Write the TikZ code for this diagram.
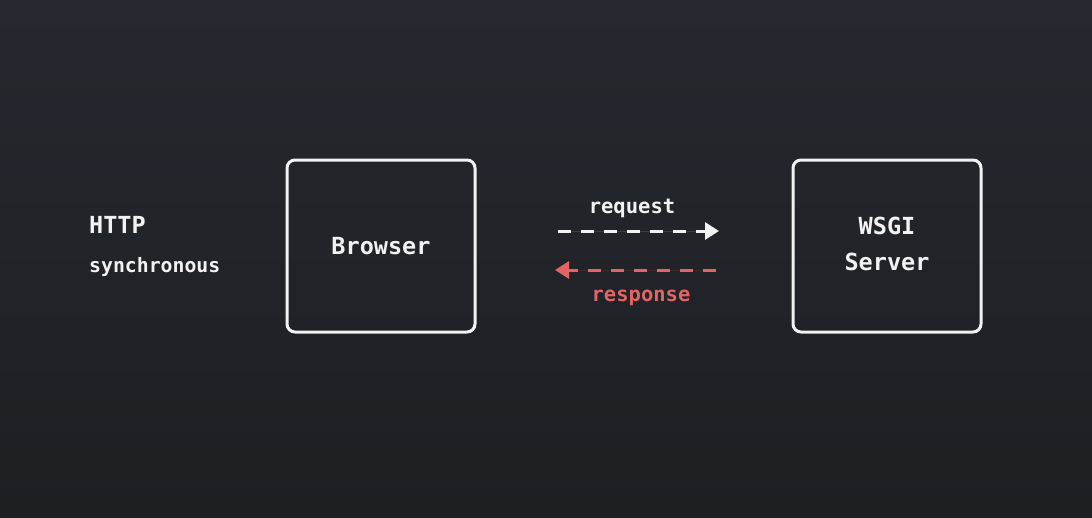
\documentclass[tikz,border=0pt]{standalone}
\usepackage{fontspec}
\setmonofont{DejaVu Sans Mono}
\usetikzlibrary{arrows.meta}
\definecolor{bgtop}{HTML}{25282E}
\definecolor{bgbot}{HTML}{1D1F23}
\definecolor{resp}{HTML}{E36464}
\definecolor{fg}{HTML}{F2F2F2}
\tikzset{
  box/.style={draw=fg, line width=3pt, rounded corners=8pt, minimum width=188pt, minimum height=172pt, inner sep=0pt},
  lbl/.style={text=fg, font=\ttfamily\bfseries\fontsize{20.5}{24}\selectfont, inner sep=0pt},
  blbl/.style={text=fg, font=\ttfamily\bfseries\fontsize{23.5}{36}\selectfont, inner sep=0pt, align=center},
  dasharrow/.style={line width=3pt, dash pattern=on 13pt off 10pt, -{Triangle[length=14pt,width=17pt]}},
}
\begin{document}
\begin{tikzpicture}[x=1pt,y=-1pt]
\shade[top color=bgtop, bottom color=bgbot] (0,0) rectangle (1092,517);
\useasboundingbox (0,0) rectangle (1092,517);
\node[box] (browser) at (381,246) {};
\node[blbl] at (browser.center) {Browser};
\node[box] (wsgi) at (887,246) {};
\node[blbl] (wsgitxt) at (887,244) {WSGI\\Server};
\node[blbl, anchor=west] (http) at (89,225) {HTTP};
\node[lbl, anchor=west, font=\ttfamily\bfseries\fontsize{19.8}{24}\selectfont] (sync) at (89,267) {synchronous};
\coordinate (rqs) at (558,231);
\coordinate (rqe) at (719,231);
\coordinate (rss) at (716,270);
\coordinate (rse) at (555,270);
\draw[dasharrow, draw=fg, fill=fg] (rqs) -- (rqe);
\draw[dasharrow, draw=resp, fill=resp] (rss) -- (rse);
\node[lbl] (req) at (632,208) {request};
\node[lbl, text=resp] (res) at (641,298) {response};
\end{tikzpicture}
\end{document}
